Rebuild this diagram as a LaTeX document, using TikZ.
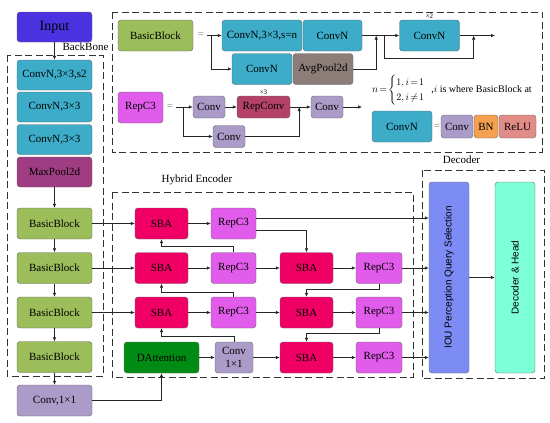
\documentclass[tikz,border=0pt]{standalone}
\usepackage{amsmath}
\usepackage{fontspec}
\setmainfont{Liberation Serif}
\setsansfont{Liberation Sans}
\usetikzlibrary{arrows.meta}
\definecolor{cInput}{RGB}{75,50,225}
\definecolor{cConvN}{RGB}{60,172,200}
\definecolor{cMax}{RGB}{160,60,130}
\definecolor{cBB}{RGB}{155,190,90}
\definecolor{cConv}{RGB}{170,155,200}
\definecolor{cAvg}{RGB}{140,125,120}
\definecolor{cRep}{RGB}{225,92,235}
\definecolor{cRepConv}{RGB}{180,65,105}
\definecolor{cSBA}{RGB}{240,0,100}
\definecolor{cDA}{RGB}{0,140,20}
\definecolor{cBN}{RGB}{245,160,80}
\definecolor{cRelu}{RGB}{225,140,135}
\definecolor{cIou}{RGB}{125,140,245}
\definecolor{cHead}{RGB}{125,255,215}

\begin{document}
\begin{tikzpicture}[x=1pt, y=-1pt,
  box/.style={draw=black!60, rounded corners=3pt, inner sep=1pt, align=center, font=\fontsize{11}{13}\selectfont, minimum height=31pt},
  arr/.style={draw=black!85, line width=.6pt, -{Latex[length=4pt,width=3.5pt]}},
  dashbox/.style={draw=black!80, line width=1pt, dash pattern=on 7pt off 3.5pt},
  lbl/.style={font=\fontsize{11}{13}\selectfont},
  tiny/.style={font=\fontsize{7}{8}\selectfont, inner sep=1pt}]
\useasboundingbox (0,0) rectangle (550,423);

% dashed frames
\draw[dashbox] (7,55) rectangle (103,376);
\draw[dashbox] (112,12) rectangle (542,152);
\draw[dashbox] (112,192) rectangle (413,377);
\draw[dashbox] (422,170) rectangle (544,378);
\node[lbl] (tbk) at (85.5,47) {BackBone};
\node[lbl] (tenc) at (197,180) {Hybrid Encoder};
\node[lbl] (tdec) at (461.5,160) {Decoder};

% backbone
\node[box, fill=cInput, minimum width=75pt, minimum height=30pt, font=\fontsize{14}{16}\selectfont] (in) at (54.5,27) {Input};
\node[box, fill=cConvN, minimum width=75pt, minimum height=30pt] (b1) at (54.5,75) {ConvN,3×3,s2};
\node[box, fill=cConvN, minimum width=75pt, minimum height=30pt] (b2) at (54.5,107) {ConvN,3×3};
\node[box, fill=cConvN, minimum width=75pt, minimum height=30pt] (b3) at (54.5,139.5) {ConvN,3×3};
\node[box, fill=cMax, minimum width=75pt, minimum height=30pt] (b4) at (54.5,172) {MaxPool2d};
\node[box, fill=cBB, minimum width=75pt] (bb1) at (54.5,223.5) {BasicBlock};
\node[box, fill=cBB, minimum width=75pt] (bb2) at (54.5,268) {BasicBlock};
\node[box, fill=cBB, minimum width=75pt] (bb3) at (54.5,312.5) {BasicBlock};
\node[box, fill=cBB, minimum width=75pt] (bb4) at (54.5,357) {BasicBlock};
\node[box, fill=cConv, minimum width=75pt] (cv) at (54.5,400.5) {Conv,1×1};
\draw[arr] (in) -- (b1);
\draw[arr] (b4) -- (bb1);
\draw[arr] (bb1) -- (bb2);
\draw[arr] (bb2) -- (bb3);
\draw[arr] (bb3) -- (bb4);
\draw[arr] (bb4) -- (cv);

% BasicBlock legend
\node[box, fill=cBB, minimum width=75pt] (lbb) at (155.5,35.5) {BasicBlock};
\node[lbl, text=black!50] (leq1) at (201,35) {=};
\coordinate (lbs) at (207,35.5);
\node[box, fill=cConvN, minimum width=80pt] (lc1) at (262,35.5) {ConvN,3×3,s=n};
\node[box, fill=cConvN, minimum width=59pt] (lc2) at (332.5,35.5) {ConvN};
\node[box, fill=cConvN, minimum width=60pt] (lc3) at (262,69) {ConvN};
\node[box, fill=cAvg, minimum width=60pt] (lavg) at (323,69) {AvgPool2d};
\node[box, fill=cConvN, minimum width=60pt, label={[tiny]above:×2}] (lc4) at (429.5,35.5) {ConvN};
\coordinate (lbo) at (495,35.5);
\draw[arr] (lbs) -- (lc1);
\draw[arr] ([xshift=4pt]lbs) |- (lc3);
\draw[arr] (lc2) -- (lc4);
\draw[arr] (lavg) -| ([xshift=14pt]lc2.east);
\draw[arr] ([xshift=22pt]lc2.east) -- ++(0,23) -| ([xshift=14pt]lc4.east);
\draw[arr] (lc4) -- (lbo);

% RepC3 legend
\node[box, fill=cRep, minimum width=45pt] (lrep) at (140.5,107.5) {RepC3};
\node[lbl, text=black!50] (leq2) at (170,107) {=};
\coordinate (lrs) at (176,107);
\node[box, fill=cConv, minimum width=32pt, minimum height=22pt] (lv1) at (209,107) {Conv};
\node[box, fill=cRepConv, minimum width=53pt, minimum height=22pt, label={[tiny]above:×3}] (lrc) at (263.5,107) {RepConv};
\node[box, fill=cConv, minimum width=32pt, minimum height=22pt] (lv2) at (229,136.5) {Conv};
\node[box, fill=cConv, minimum width=32pt, minimum height=22pt] (lv3) at (327,107) {Conv};
\coordinate (lro) at (362,107);
\draw[arr] (lrs) -- (lv1);
\draw[arr] ([xshift=7pt]lrs) |- (lv2);
\draw[arr] (lv1) -- (lrc);
\draw[arr] (lrc) -- (lv3);
\draw[arr] (lv2) -| ([xshift=9pt]lrc.east);
\draw[arr] (lv3) -- (lro);

\node[font=\fontsize{10}{12}\selectfont, anchor=west, inner sep=0pt] (form) at (372,90) {$n\!=\!\begin{cases}1,i\!=\!1\\2,i\!\neq\!1\end{cases}$\hspace{-4pt},$i$ is where BasicBlock at};

% ConvN legend
\node[box, fill=cConvN, minimum width=60pt] (lcn) at (402,126.5) {ConvN};
\node[lbl, text=black!50] (leq3) at (437,126.5) {=};
\node[box, fill=cConv, minimum width=32pt, minimum height=23pt] (lcv) at (457,126.5) {Conv};
\node[box, fill=cBN, minimum width=24pt, minimum height=23pt] (lbn) at (486,126.5) {BN};
\node[box, fill=cRelu, minimum width=37pt, minimum height=23pt] (lrl) at (517.5,126.5) {ReLU};

% hybrid encoder
\node[box, fill=cSBA, minimum width=53pt] (s1) at (161.5,223.5) {SBA};
\node[box, fill=cSBA, minimum width=53pt] (s2) at (161.5,268) {SBA};
\node[box, fill=cSBA, minimum width=53pt] (s3) at (161.5,312.5) {SBA};
\node[box, fill=cDA, minimum width=75pt] (da) at (161.5,357.5) {DAttention};
\node[box, fill=cRep, minimum width=45pt] (r1) at (233.5,223.5) {RepC3};
\node[box, fill=cRep, minimum width=45pt] (r2) at (233.5,268) {RepC3};
\node[box, fill=cRep, minimum width=45pt] (r3) at (233.5,312.5) {RepC3};
\node[box, fill=cConv, minimum width=38pt, font=\fontsize{11}{13}\selectfont] (c11) at (234,357.5) {Conv\\1×1};
\node[box, fill=cSBA, minimum width=53pt] (t2) at (306.5,268) {SBA};
\node[box, fill=cSBA, minimum width=53pt] (t3) at (306.5,312.5) {SBA};
\node[box, fill=cSBA, minimum width=53pt] (t4) at (306.5,357.5) {SBA};
\node[box, fill=cRep, minimum width=46pt] (q2) at (379,268) {RepC3};
\node[box, fill=cRep, minimum width=46pt] (q3) at (379,312.5) {RepC3};
\node[box, fill=cRep, minimum width=46pt] (q4) at (379,357.5) {RepC3};

% decoder
\node[box, fill=cIou, minimum width=40pt, minimum height=191pt, label={[rotate=90, font=\sffamily\fontsize{10}{12}\selectfont]center:IOU Perception Query Selection}] (iou) at (449,277.5) {};
\node[box, fill=cHead, minimum width=40pt, minimum height=191pt, label={[rotate=90, font=\sffamily\fontsize{10}{12}\selectfont]center:Decoder \& Head}] (dec) at (515,277.5) {};

\draw[arr] (bb1) -- (s1);
\draw[arr] (bb2) -- (s2);
\draw[arr] (bb3) -- (s3);
\draw[arr] (cv) -| (da);
\draw[arr] (s1) -- (r1);
\draw[arr] (s2) -- (r2);
\draw[arr] (s3) -- (r3);
\draw[arr] (da) -- (c11);
\draw[arr] (r2) -- (t2);
\draw[arr] (r3) -- (t3);
\draw[arr] (c11) -- (t4);
\draw[arr] (t2) -- (q2);
\draw[arr] (t3) -- (q3);
\draw[arr] (t4) -- (q4);
\draw[arr] (r2.north) -- ++(0,-6) -| (s1.south);
\draw[arr] (r3.north) -- ++(0,-5) -| (s2.south);
\draw[arr] (c11.north) -- ++(0,-6) -| (s3.south);
\draw[arr] ([yshift=5.5pt]r1.east) -- ([yshift=5.5pt]r1.east -| iou.west);
\draw[arr] ([yshift=-6.5pt]r1.east) -| (t2.north);
\draw[arr] (q2.south) -- ++(0,6) -| (t3.north);
\draw[arr] (q3.south) -- ++(0,5) -| (t4.north);
\draw[arr] (q2) -- (q2 -| iou.west);
\draw[arr] (q3) -- (q3 -| iou.west);
\draw[arr] (q4) -- (q4 -| iou.west);
\draw[arr] (iou) -- (dec);
\end{tikzpicture}
\end{document}
